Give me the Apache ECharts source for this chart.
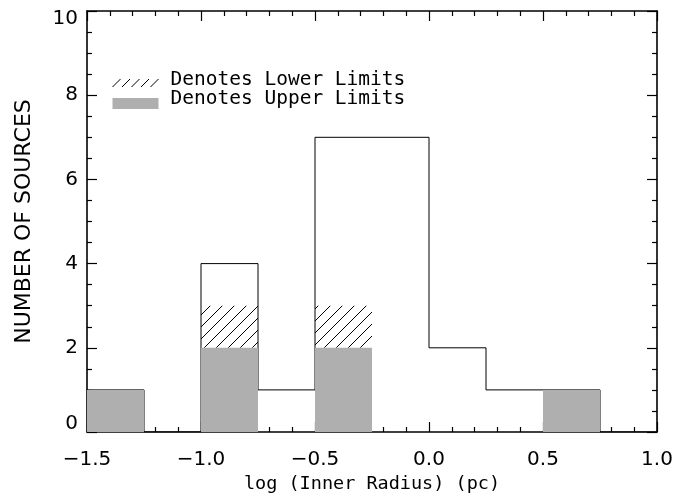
<!DOCTYPE html>
<html>
<head>
<meta charset="utf-8">
<script src="https://cdn.jsdelivr.net/npm/echarts@6/dist/echarts.min.js"></script>
<style>
html,body{margin:0;padding:0;background:#fff;}
#chart{width:691px;height:499px;}
</style>
</head>
<body>
<div id="chart"></div>
<script>
// ---- data ----
const binStarts = [-1.5, -1.25, -1.0, -0.75, -0.5, -0.25, 0.0, 0.25, 0.5, 0.75];
const binWidth = 0.25;
const totalCounts = [1, 0, 4, 1, 7, 7, 2, 1, 1, 0];
const upperLimitCounts = [1, 0, 2, 0, 2, 0, 0, 0, 1, 0];
const lowerLimitCounts = [0, 0, 1, 0, 1, 0, 0, 0, 0, 0];
const xTickValues = [-1.5, -1.0, -0.5, 0.0, 0.5, 1.0];
const xTickLabels = ['\u22121.5', '\u22121.0', '\u22120.5', '0.0', '0.5', '1.0'];
const yTickValues = [0, 2, 4, 6, 8, 10];
const yTickLabels = ['0', '2', '4', '6', '8', '10'];
const legendLabels = ['Denotes Lower Limits', 'Denotes Upper Limits'];

const FONT = 'DejaVu Sans';
const MONO = 'DejaVu Sans Mono';
const GRAY = '#afafaf';

// hatch pattern
const pc = document.createElement('canvas');
pc.width = 12; pc.height = 12;
const g = pc.getContext('2d');
g.strokeStyle = '#000'; g.lineWidth = 1;
g.beginPath();
g.moveTo(0, 12); g.lineTo(12, 0);
g.moveTo(-1, 1); g.lineTo(1, -1);
g.moveTo(11, 13); g.lineTo(13, 11);
g.stroke();
const hatch = {image: pc, repeat: 'repeat'};

// outline step data
const outline = binStarts.map((x, i) => [x, totalCounts[i]]);
outline.push([binStarts[binStarts.length - 1] + binWidth, 0]);

const upperData = [];
const lowerData = [];
binStarts.forEach((x, i) => {
  if (upperLimitCounts[i] > 0) upperData.push([x, x + binWidth, 0, upperLimitCounts[i]]);
  if (lowerLimitCounts[i] > 0) lowerData.push([x, x + binWidth, upperLimitCounts[i], upperLimitCounts[i] + lowerLimitCounts[i]]);
});

function rectRender(fill) {
  return function (params, api) {
    const p0 = api.coord([api.value(0), api.value(3)]);
    const p1 = api.coord([api.value(1), api.value(2)]);
    return {type: 'rect', shape: {x: p0[0], y: p0[1], width: p1[0] - p0[0], height: p1[1] - p0[1]},
      style: {fill: fill, stroke: null}};
  };
}

const xLabelMap = {};
xTickValues.forEach((v, i) => xLabelMap[v.toFixed(1)] = xTickLabels[i]);
const yLabelMap = {};
yTickValues.forEach((v, i) => yLabelMap[v] = yTickLabels[i]);

const axisLine = {show: true, onZero: false, lineStyle: {color: '#000', width: 1.6}};
const axisTick = {show: true, inside: true, length: 10, lineStyle: {color: '#000', width: 1.2}};
function minor(n) { return {show: true, splitNumber: n, length: 5, lineStyle: {color: '#000', width: 1.2}}; }

// legend hatch sample strokes
const legendStrokes = [];
for (let i = 0; i < 5; i++) {
  legendStrokes.push({type: 'line', shape: {x1: i * 9.5, y1: 14, x2: i * 9.5 + 8, y2: 6},
    style: {stroke: '#000', lineWidth: 1}});
}

const chart = echarts.init(document.getElementById('chart'));
chart.setOption({
  animation: false,
  backgroundColor: '#fff',
  grid: {left: 87, right: 34, top: 11, bottom: 67},
  xAxis: [
    {type: 'value', min: -1.5, max: 1.0, interval: 0.5, position: 'bottom',
      axisLine: axisLine, axisTick: axisTick, minorTick: minor(5), splitLine: {show: false},
      name: 'log (Inner Radius) (pc)', nameLocation: 'middle', nameGap: 42,
      nameTextStyle: {fontFamily: MONO, fontSize: 18.5, color: '#000'},
      axisLabel: {fontFamily: FONT, fontSize: 20, color: '#000', margin: 18,
        formatter: v => xLabelMap[Number(v).toFixed(1)] || ''}},
    {type: 'value', min: -1.5, max: 1.0, interval: 0.5, position: 'top',
      axisLine: axisLine, axisTick: axisTick, minorTick: minor(5), splitLine: {show: false},
      axisLabel: {show: false}}
  ],
  yAxis: [
    {type: 'value', min: 0, max: 10, interval: 2, position: 'left',
      axisLine: axisLine, axisTick: axisTick, minorTick: minor(4), splitLine: {show: false},
      name: 'NUMBER OF SOURCES', nameLocation: 'middle', nameGap: 52, nameRotate: 90,
      nameTextStyle: {fontFamily: FONT, fontSize: 22, color: '#000'},
      axisLabel: {fontFamily: FONT, fontSize: 20, lineHeight: 16, color: '#000', margin: 9,
        verticalAlignMinLabel: 'bottom', verticalAlignMaxLabel: 'top',
        formatter: v => yLabelMap[v] !== undefined ? yLabelMap[v] : ''}},
    {type: 'value', min: 0, max: 10, interval: 2, position: 'right',
      axisLine: axisLine, axisTick: axisTick, minorTick: minor(4), splitLine: {show: false},
      axisLabel: {show: false}}
  ],
  graphic: [
    {type: 'group', left: 110, top: 70, children: legendStrokes.concat([
      {type: 'rect', shape: {x: 0, y: 25, width: 46, height: 11}, style: {fill: GRAY}},
      {type: 'text', x: 58, y: 7, style: {text: legendLabels[0], font: '19.5px "DejaVu Sans Mono"', fill: '#000', verticalAlign: 'middle'}},
      {type: 'text', x: 58, y: 26, style: {text: legendLabels[1], font: '19.5px "DejaVu Sans Mono"', fill: '#000', verticalAlign: 'middle'}}
    ])}
  ],
  series: [
    {type: 'line', step: 'end', data: outline, symbol: 'none', z: 2,
      lineStyle: {color: '#000', width: 1}},
    {type: 'custom', renderItem: rectRender(hatch), data: lowerData, z: 3,
      encode: {x: [0, 1], y: [2, 3]}},
    {type: 'custom', renderItem: rectRender(GRAY), data: upperData, z: 4,
      encode: {x: [0, 1], y: [2, 3]}}
  ]
});
</script>
</body>
</html>
